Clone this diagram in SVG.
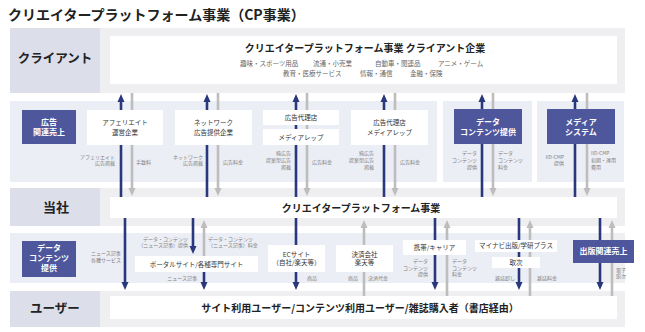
<svg xmlns="http://www.w3.org/2000/svg" width="645" height="332" viewBox="0 0 645 332">
<style>
text{font-family:"Noto Sans CJK JP","Noto Sans",sans-serif;}
.band{fill:#efeff1}
.lab{fill:#dcdeea}
.lav{fill:#eceef5}
.wb{fill:#fff}
.db{fill:#4e569c}
.h{font-weight:700;fill:#222}
.rl{font-weight:700;fill:#222;text-anchor:middle}
.bt{font-size:6.5px;fill:#333;text-anchor:middle}
.dt{font-size:8px;font-weight:700;fill:#fff;text-anchor:middle}
.sm{font-size:5px;fill:#808080}
.sub{font-size:6.5px;fill:#666}
.e{text-anchor:end}
.m{text-anchor:middle}
.ab{stroke:#29387c;stroke-width:2.6;fill:none}
.ag{stroke:#bdbdbd;stroke-width:2.6;fill:none}
</style>
<defs>
<marker id="mb" viewBox="0 0 8 8" refX="1" refY="4" markerWidth="8" markerHeight="8" markerUnits="userSpaceOnUse" orient="auto"><path d="M0,0.5 L8,4 L0,7.5z" fill="#29387c"/></marker>
<marker id="mg" viewBox="0 0 8 8" refX="1" refY="4" markerWidth="8" markerHeight="8" markerUnits="userSpaceOnUse" orient="auto"><path d="M0,0.5 L8,4 L0,7.5z" fill="#bdbdbd"/></marker>
</defs>

<text x="8" y="20" class="h" font-size="14">クリエイタープラットフォーム事業（CP事業）</text>

<!-- bands -->
<g id="bands">
<rect x="10" y="28" width="90" height="65" class="lab"/>
<rect x="100" y="28" width="525" height="65" class="band"/>
<rect x="10" y="101" width="427" height="81" class="lav"/>
<rect x="443" y="101" width="89" height="81" class="lav"/>
<rect x="537" y="101" width="87" height="81" class="lav"/>
<rect x="10" y="188" width="90" height="38" class="lab"/>
<rect x="100" y="188" width="525" height="38" class="band"/>
<rect x="10" y="233" width="586" height="50" class="lav"/>
<rect x="596" y="233" width="29" height="50" class="band"/>
<rect x="10" y="291" width="90" height="36" class="lab"/>
<rect x="100" y="291" width="525" height="36" class="band"/>
</g>

<g id="row-labels">
<text x="55" y="62.5" class="rl" font-size="12.5">クライアント</text>
<text x="56" y="212" class="rl" font-size="13">当社</text>
<text x="55" y="312.5" class="rl" font-size="12.5">ユーザー</text>
</g>

<!-- connectors -->
<g id="connectors">
<line x1="121" y1="197" x2="121" y2="101" class="ab" marker-end="url(#mb)"/>
<line x1="207" y1="197" x2="207" y2="101" class="ab" marker-end="url(#mb)"/>
<line x1="296" y1="197" x2="296" y2="101" class="ab" marker-end="url(#mb)"/>
<line x1="384" y1="197" x2="384" y2="101" class="ab" marker-end="url(#mb)"/>
<line x1="482" y1="197" x2="482" y2="101" class="ab" marker-end="url(#mb)"/>
<line x1="575" y1="197" x2="575" y2="101" class="ab" marker-end="url(#mb)"/>
<line x1="132" y1="93" x2="132" y2="189" class="ag" marker-end="url(#mg)"/>
<line x1="218" y1="93" x2="218" y2="189" class="ag" marker-end="url(#mg)"/>
<line x1="307" y1="93" x2="307" y2="189" class="ag" marker-end="url(#mg)"/>
<line x1="395" y1="93" x2="395" y2="189" class="ag" marker-end="url(#mg)"/>
<line x1="493" y1="93" x2="493" y2="189" class="ag" marker-end="url(#mg)"/>
<line x1="587" y1="93" x2="587" y2="189" class="ag" marker-end="url(#mg)"/>

<line x1="125" y1="218" x2="125" y2="283" class="ab" marker-end="url(#mb)"/>
<line x1="193" y1="218" x2="193" y2="247" class="ab" marker-end="url(#mb)"/>
<line x1="204" y1="256" x2="204" y2="227" class="ag" marker-end="url(#mg)"/>
<line x1="204" y1="272" x2="204" y2="283" class="ab" marker-end="url(#mb)"/>
<line x1="296" y1="218" x2="296" y2="283" class="ab" marker-end="url(#mb)"/>
<line x1="364" y1="296" x2="364" y2="227" class="ag" marker-end="url(#mg)"/>
<line x1="435" y1="218" x2="435" y2="283" class="ab" marker-end="url(#mb)"/>
<line x1="447" y1="296" x2="447" y2="227" class="ag" marker-end="url(#mg)"/>
<line x1="519" y1="218" x2="519" y2="283" class="ab" marker-end="url(#mb)"/>
<line x1="530" y1="296" x2="530" y2="227" class="ag" marker-end="url(#mg)"/>
<line x1="600" y1="218" x2="600" y2="283" class="ab" marker-end="url(#mb)"/>
<line x1="612" y1="296" x2="612" y2="227" class="ag" marker-end="url(#mg)"/>
</g>

<!-- connector labels -->
<g id="labels">
<text x="115" y="158.5" class="sm e">アフェリエイト</text>
<text x="115" y="165" class="sm e">広告掲載</text>
<text x="136" y="163.5" class="sm">手数料</text>
<text x="203" y="158.5" class="sm e">ネットワーク</text>
<text x="203" y="165" class="sm e">広告掲載</text>
<text x="223" y="163.5" class="sm">広告料金</text>
<text x="291" y="155" class="sm e">純広告</text>
<text x="291" y="162" class="sm e">提案型広告</text>
<text x="291" y="168.5" class="sm e">掲載</text>
<text x="312" y="163.5" class="sm">広告料金</text>
<text x="374" y="155" class="sm e">純広告</text>
<text x="374" y="162" class="sm e">提案型広告</text>
<text x="374" y="168.5" class="sm e">掲載</text>
<text x="400" y="163.5" class="sm">広告料金</text>
<text x="477" y="155" class="sm e">データ</text>
<text x="477" y="162" class="sm e">コンテンツ</text>
<text x="477" y="168.5" class="sm e">提供</text>
<text x="498" y="155" class="sm">データ</text>
<text x="498" y="162" class="sm">コンテンツ</text>
<text x="498" y="168.5" class="sm">料金</text>
<text x="564" y="158.5" class="sm e">IID-CMP</text>
<text x="564" y="165" class="sm e">提供</text>
<text x="591" y="155" class="sm">IID-CMP</text>
<text x="591" y="162" class="sm">初期・運用</text>
<text x="591" y="168.5" class="sm">費用</text>

<text x="91" y="255" class="sm">ニュース記事</text>
<text x="91" y="262" class="sm">各種サービス</text>
<text x="188" y="241" class="sm e">データ・コンテンツ</text>
<text x="188" y="247" class="sm e">（ニュース記事）提供</text>
<text x="208" y="241" class="sm">データ・コンテンツ</text>
<text x="208" y="247" class="sm">（ニュース記事）料金</text>
<text x="197" y="279.5" class="sm e">ニュース記事</text>
<text x="307" y="280" class="sm">商品</text>
<text x="358" y="280" class="sm e">商品</text>
<text x="368" y="280" class="sm">決済代金</text>
<text x="428" y="263" class="sm e">データ</text>
<text x="428" y="269.5" class="sm e">コンテンツ</text>
<text x="428" y="276" class="sm e">提供</text>
<text x="452" y="263" class="sm">データ</text>
<text x="452" y="269.5" class="sm">コンテンツ</text>
<text x="452" y="276" class="sm">料金</text>
<text x="495" y="280" class="sm">雑誌卸し</text>
<text x="537" y="280" class="sm">雑誌料金</text>
<text x="616" y="272" class="sm">電子</text>
<text x="616" y="278" class="sm">取次</text>
</g>

<!-- nodes -->
<g id="client">
<rect x="110" y="36" width="507" height="48" class="wb"/>
<text x="365" y="52" class="h m" font-size="10">クリエイタープラットフォーム事業 クライアント企業</text>
<text y="65.5" class="sub"><tspan x="240">趣味・スポーツ用品</tspan><tspan x="313">流通・小売業</tspan><tspan x="375">自動車・関連品</tspan><tspan x="438">アニメ・ゲーム</tspan></text>
<text y="76" class="sub"><tspan x="283">教育・医療サービス</tspan><tspan x="360">情報・通信</tspan><tspan x="410">金融・保険</tspan></text>
</g>
<g id="ad-sales">
<rect x="22" y="110" width="54" height="34" class="db"/>
<text x="49" y="124.7" class="dt" font-size="7.5">広告</text>
<text x="49" y="134.7" class="dt" font-size="7.5">関連売上</text>
</g>
<g id="affiliate">
<rect x="87" y="110" width="76" height="35" class="wb"/>
<text x="125" y="125.3" class="bt">アフェリエイト</text>
<text x="125" y="134.5" class="bt">運営企業</text>
</g>
<g id="network">
<rect x="175" y="110" width="77" height="35" class="wb"/>
<text x="213.5" y="125.3" class="bt">ネットワーク</text>
<text x="213.5" y="134.5" class="bt">広告提供企業</text>
</g>
<g id="agency1">
<rect x="263" y="110" width="76" height="15" class="wb"/>
<text x="301" y="120.3" class="bt">広告代理店</text>
<rect x="263" y="129" width="76" height="16" class="wb"/>
<text x="301" y="140.3" class="bt" font-size="7px">メディアレップ</text>
</g>
<g id="agency2">
<rect x="351" y="110" width="77" height="35" class="wb"/>
<text x="389.5" y="125.3" class="bt">広告代理店</text>
<text x="389.5" y="134.8" class="bt" font-size="7px">メディアレップ</text>
</g>
<g id="data-top">
<rect x="454" y="109" width="68" height="35" class="db"/>
<text x="488" y="124.8" class="dt">データ</text>
<text x="488" y="134.8" class="dt">コンテンツ提供</text>
</g>
<g id="media-system">
<rect x="547" y="109" width="68" height="35" class="db"/>
<text x="581" y="124.8" class="dt">メディア</text>
<text x="581" y="134.8" class="dt">システム</text>
</g>
<g id="company">
<rect x="110" y="197" width="507" height="21" class="wb"/>
<text x="361" y="211.5" class="h m" font-size="10">クリエイタープラットフォーム事業</text>
</g>
<g id="data-bottom">
<rect x="22" y="241" width="54" height="36" class="db"/>
<text x="49" y="250.8" class="dt">データ</text>
<text x="49" y="260.8" class="dt">コンテンツ</text>
<text x="49" y="270.8" class="dt">提供</text>
</g>
<g id="portal">
<rect x="135" y="256" width="123" height="16" class="wb"/>
<text x="196.5" y="266.5" class="bt">ポータルサイト/各種専門サイト</text>
</g>
<g id="ec">
<rect x="268" y="245" width="57" height="27" class="wb"/>
<text x="296.5" y="256.5" class="bt">ECサイト</text>
<text x="296.5" y="265" class="bt">（自社/楽天等）</text>
</g>
<g id="payment">
<rect x="336" y="245" width="57" height="27" class="wb"/>
<text x="364.5" y="256.5" class="bt">決済会社</text>
<text x="364.5" y="265" class="bt">楽天等</text>
</g>
<g id="carrier">
<rect x="403" y="240" width="63" height="15" class="wb"/>
<text x="434.5" y="249.5" class="bt">携帯/キャリア</text>
</g>
<g id="mynavi">
<rect x="475" y="240" width="82" height="12" class="wb"/>
<text x="516" y="248.3" class="bt">マイナビ出版/学研プラス</text>
</g>
<g id="toritsugi">
<rect x="492" y="257" width="48" height="11" class="wb"/>
<text x="516" y="265" class="bt">取次</text>
</g>
<g id="publishing">
<rect x="573" y="240" width="61" height="23" class="db"/>
<text x="603.5" y="254" class="dt" font-size="7.5">出版関連売上</text>
</g>
<g id="users">
<rect x="110" y="296" width="507" height="23" class="wb"/>
<text x="360" y="311.5" class="h m" font-size="10">サイト利用ユーザー/コンテンツ利用ユーザー/雑誌購入者（書店経由）</text>
</g>
</svg>
